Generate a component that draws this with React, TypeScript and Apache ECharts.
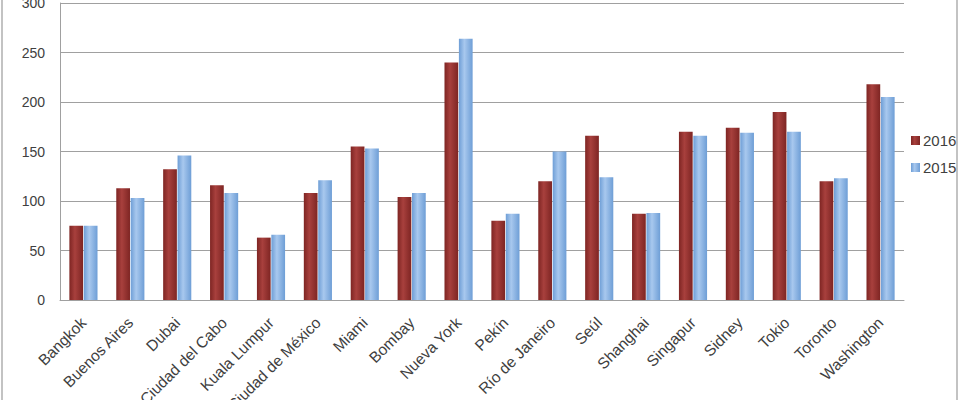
import React, { useEffect, useRef } from "react";
import * as echarts from "echarts";

const categories = [
  "Bangkok", "Buenos Aires", "Dubai", "Ciudad del Cabo", "Kuala Lumpur", "Ciudad de México",
  "Miami", "Bombay", "Nueva York", "Pekín", "Río de Janeiro", "Seúl", "Shanghai",
  "Singapur", "Sidney", "Tokio", "Toronto", "Washington",
];
const values2016 = [75, 113, 132, 116, 63, 108, 155, 104, 240, 80, 120, 166, 87, 170, 174, 190, 120, 218];
const values2015 = [75, 103, 146, 108, 66, 121, 153, 108, 264, 87, 150, 124, 88, 166, 169, 170, 123, 205];
const seriesNames = ["2016", "2015"];

const FONT = "'Liberation Sans', Arial, sans-serif";

function cyl(edge: string, mid: string) {
  return new echarts.graphic.LinearGradient(0, 0, 1, 0, [
    { offset: 0, color: edge },
    { offset: 0.4, color: mid },
    { offset: 1, color: edge },
  ]);
}

export default function App() {
  const ref = useRef<HTMLDivElement>(null);
  useEffect(() => {
    if (!ref.current) return;
    const chart = echarts.init(ref.current, undefined, { renderer: "svg" });
    chart.setOption({
      animation: false,
      backgroundColor: "#ffffff",
      grid: { left: 60, right: 56, top: 3, bottom: 100, outerBoundsMode: "none", containLabel: false },
      legend: {
        orient: "vertical",
        left: 906,
        top: 128,
        itemWidth: 9,
        itemHeight: 9,
        itemGap: 12,
        icon: "rect",
        textStyle: { fontFamily: FONT, fontSize: 15, color: "#404040", padding: [0, 0, 0, -2] },
        data: seriesNames,
      },
      xAxis: {
        type: "category",
        data: categories,
        axisLine: { lineStyle: { color: "#a0a0a0" } },
        axisTick: { show: false },
        axisLabel: {
          rotate: 45,
          interval: 0,
          margin: 20,
          fontFamily: FONT,
          fontSize: 15.5,
          color: "#404040",
        },
      },
      yAxis: {
        type: "value",
        min: 0,
        max: 300,
        interval: 50,
        axisLine: { show: true, lineStyle: { color: "#a0a0a0" } },
        axisTick: { show: false },
        splitLine: { lineStyle: { color: "#a0a0a0" } },
        axisLabel: { margin: 15, fontFamily: FONT, fontSize: 14, color: "#404040" },
      },
      series: [
        {
          name: seriesNames[0],
          type: "bar",
          data: values2016,
          barGap: "5%",
          barCategoryGap: "40%",
          itemStyle: { color: cyl("#7e2523", "#a8403d") },
        },
        {
          name: seriesNames[1],
          type: "bar",
          data: values2015,
          itemStyle: { color: cyl("#6e9ed6", "#a8c8ee") },
        },
      ],
      graphic: [
        {
          type: "rect",
          shape: { x: 2, y: -10, width: 955, height: 420 },
          style: { fill: "none", stroke: "#b0b0b0", lineWidth: 1.5 },
          silent: true,
        },
      ],
    });
    return () => chart.dispose();
  }, []);
  return (
    <div
      ref={ref}
      style={{ position: "fixed", left: 0, top: 0, width: 960, height: 400 }}
    />
  );
}
